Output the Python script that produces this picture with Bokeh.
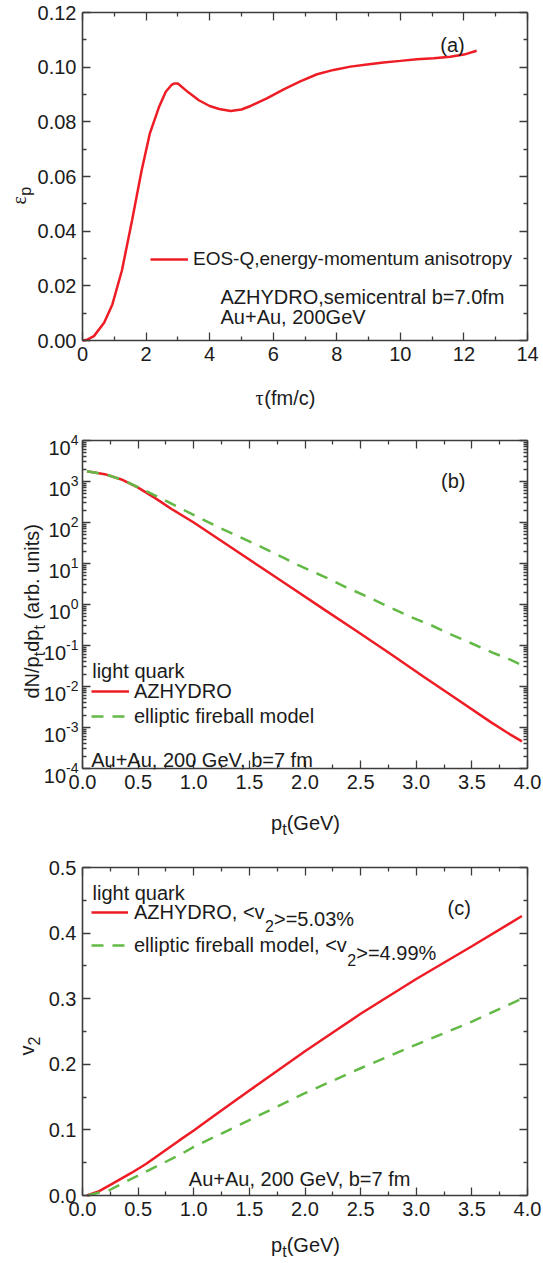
import math

from bokeh.core.properties import value
from bokeh.embed import file_html
from bokeh.layouts import column
from bokeh.models import (CustomJSTickFormatter, FixedTicker, Label, Legend,
                          LegendItem, LinearAxis, LogAxis, PrintfTickFormatter,
                          Range1d)
from bokeh.plotting import figure
from bokeh.resources import INLINE

# ---------------------------------------------------------------- data
# (a) energy-momentum anisotropy vs proper time
tau = [0.0, 0.15, 0.36, 0.68, 0.94, 1.24, 1.56, 1.86, 2.12, 2.40, 2.62, 2.80,
       2.88, 3.0, 3.34, 3.66, 4.0, 4.3, 4.66, 5.0, 5.29, 5.8, 6.33, 6.85, 7.38,
       7.9, 8.43, 8.95, 9.47, 10.0, 10.52, 11.05, 11.57, 12.0, 12.4]
eps_p = [0.0, 0.0003, 0.0016, 0.0065, 0.0132, 0.0256, 0.0440, 0.0622, 0.0758,
         0.0852, 0.0910, 0.0935, 0.0940, 0.0940, 0.0907, 0.0879, 0.0858, 0.0847,
         0.0840, 0.0845, 0.0858, 0.0886, 0.0919, 0.0948, 0.0974, 0.0990, 0.1002,
         0.1010, 0.1017, 0.1023, 0.1029, 0.1033, 0.1038, 0.1046, 0.1060]

# (b) light-quark spectra
pt_spec_hydro = [0.04, 0.2, 0.35, 0.5, 0.65, 0.8, 1.0, 1.32, 1.61, 1.88, 2.17,
                 2.47, 2.77, 3.07, 3.37, 3.67, 3.85, 3.95]
dn_hydro = [1780, 1510, 1120, 708, 398, 214, 100, 26.3, 7.9, 2.57, 0.76, 0.22,
            0.062, 0.017, 0.0048, 0.00135, 0.00066, 0.00046]
pt_spec_fire = [0.04, 0.2, 0.35, 0.5, 0.66, 0.85, 1.03, 1.225, 1.42, 1.61, 1.8,
                1.94, 2.17, 2.37, 2.56, 2.74, 2.93, 3.13, 3.32, 3.5, 3.7, 3.85,
                3.95]
dn_fire = [1780, 1510, 1120, 724, 447, 245, 138, 75.9, 43.7, 25.1, 14.1, 9.1,
           4.8, 2.63, 1.55, 0.91, 0.525, 0.316, 0.182, 0.112, 0.0646, 0.0447,
           0.0331]

# (c) light-quark elliptic flow
pt_v2_hydro = [0.04, 0.15, 0.27, 0.435, 0.57, 0.87, 1.0, 1.17, 1.5, 2.0, 2.5,
               3.0, 3.5, 3.95]
v2_hydro = [0.0, 0.0066, 0.018, 0.034, 0.048, 0.084, 0.099, 0.120, 0.160,
            0.220, 0.277, 0.330, 0.380, 0.426]
pt_v2_fire = [0.05, 0.24, 0.435, 0.66, 0.87, 1.0, 1.5, 2.0, 2.5, 3.0, 3.5,
              3.95]
v2_fire = [0.0005, 0.008, 0.025, 0.044, 0.0615, 0.074, 0.115, 0.156, 0.194,
           0.230, 0.265, 0.300]

# axis ticks
tau_ticks = [0, 2, 4, 6, 8, 10, 12, 14]
tau_minor = [1, 3, 5, 7, 9, 11, 13]
eps_ticks = [0.0, 0.02, 0.04, 0.06, 0.08, 0.10, 0.12]
eps_minor = [0.01, 0.03, 0.05, 0.07, 0.09, 0.11]
pt_ticks = [0.0, 0.5, 1.0, 1.5, 2.0, 2.5, 3.0, 3.5, 4.0]
pt_minor = [0.25, 0.75, 1.25, 1.75, 2.25, 2.75, 3.25, 3.75]
dn_exponents = [-4, -3, -2, -1, 0, 1, 2, 3, 4]
dn_ticks = [10.0 ** k for k in dn_exponents]
dn_minor = [m * 10.0 ** k for k in dn_exponents[:-1] for m in range(2, 10)]
v2_ticks = [0.0, 0.1, 0.2, 0.3, 0.4, 0.5]
v2_minor = [0.05, 0.15, 0.25, 0.35, 0.45]

# ---------------------------------------------------------------- style
FONT = "Liberation Sans"
GREEK = "Liberation Serif"
INK = "#1b1b1b"
AXIS = "#3c3c3c"
RED = "#ee1c25"
GREEN = "#63b946"
DASH = "12 9"
SIZE = 20
SUB_SIZE = 16
SUB_SHIFT = 7

PAGE_W = 543
FL, FW, FH = 82, 445, 328          # plot box: left edge, width, height (px)
FR_PAD = PAGE_W - FL - FW

# Arial / Liberation Sans advance widths (1/1000 em)
ADV = {' ': 278, '%': 889, '(': 333, ')': 333, '+': 584, ',': 278, '-': 333,
       '.': 278, '/': 278, '<': 584, '=': 584, '>': 584,
       'A': 667, 'B': 667, 'C': 722, 'D': 722, 'E': 667, 'F': 611, 'G': 778,
       'H': 722, 'I': 278, 'J': 500, 'K': 667, 'L': 556, 'M': 833, 'N': 722,
       'O': 778, 'P': 667, 'Q': 778, 'R': 722, 'S': 667, 'T': 611, 'U': 722,
       'V': 667, 'W': 944, 'X': 667, 'Y': 667, 'Z': 611,
       'a': 556, 'b': 556, 'c': 500, 'd': 556, 'e': 556, 'f': 278, 'g': 556,
       'h': 556, 'i': 222, 'j': 222, 'k': 500, 'l': 222, 'm': 833, 'n': 556,
       'o': 556, 'p': 556, 'q': 556, 'r': 333, 's': 500, 't': 278, 'u': 556,
       'v': 500, 'w': 722, 'x': 500, 'y': 500, 'z': 500,
       'τ': 440, 'ε': 440}


def text_width(s, size):
    return sum(ADV.get(ch, 556) for ch in s) * size / 1000.0


BLANK = CustomJSTickFormatter(code="return ''")


class Panel:
    """One figure whose drawing area covers the whole canvas; the axes are
    pinned at the edges of the plot box, so every text can sit anywhere."""

    def __init__(self, height, top_border, page_top, xr, yr, log=False):
        self.xr, self.yr, self.log = xr, yr, log
        self.height = height
        self.page_top = page_top
        self.bottom_border = height - top_border - FH
        self.frame_top = page_top + top_border
        x0, x1 = xr
        sx = (x1 - x0) / FW
        view_x = (x0 - FL * sx, x1 + FR_PAD * sx)
        if log:
            a, b = math.log10(yr[0]), math.log10(yr[1])
            sy = (b - a) / FH
            view_y = (10 ** (a - self.bottom_border * sy),
                      10 ** (b + top_border * sy))
        else:
            sy = (yr[1] - yr[0]) / FH
            view_y = (yr[0] - self.bottom_border * sy, yr[1] + top_border * sy)
        self.fig = figure(width=PAGE_W, height=height,
                          x_range=Range1d(*view_x), y_range=Range1d(*view_y),
                          y_axis_type="log" if log else "linear",
                          output_backend="svg", toolbar_location=None,
                          min_border=0, min_border_left=0, min_border_right=0,
                          min_border_top=0, min_border_bottom=0)
        p = self.fig
        p.outline_line_color = None
        p.grid.visible = False
        p.background_fill_color = "white"
        p.border_fill_color = "white"

    def dx(self, px):
        x0, x1 = self.xr
        return x0 + (px - FL) / FW * (x1 - x0)

    def dy(self, py):
        f = (self.frame_top + FH - py) / FH
        y0, y1 = self.yr
        if self.log:
            a, b = math.log10(y0), math.log10(y1)
            return 10 ** (a + f * (b - a))
        return y0 + f * (y1 - y0)

    def py_of(self, y):
        y0, y1 = self.yr
        if self.log:
            a, b = math.log10(y0), math.log10(y1)
            f = (math.log10(y) - a) / (b - a)
        else:
            f = (y - y0) / (y1 - y0)
        return self.frame_top + FH - f * FH

    def label(self, px, py, text, size=SIZE, font=FONT, align="left",
              baseline="alphabetic", angle=0):
        self.fig.add_layout(Label(x=self.dx(px), y=self.dy(py), text=text,
                                  text_font=font, text_font_size=f"{size}px",
                                  text_color=INK, text_align=align,
                                  text_baseline=baseline, angle=angle,
                                  angle_units="deg"))

    def rich(self, px, py, runs, size=SIZE, angle=0):
        """runs: (text, kind[, font]) with kind 'n' or 'sub'."""
        pos = 0.0
        for run in runs:
            txt, kind = run[0], run[1]
            font = run[2] if len(run) > 2 else FONT
            if kind == "sub":
                s, shift = SUB_SIZE, SUB_SHIFT
            else:
                s, shift = size, 0
            lead = len(txt) - len(txt.lstrip(" "))
            pos += text_width(" " * lead, s)
            txt = txt.lstrip(" ")
            if angle == 0:
                X, Y = px + pos, py + shift
            else:
                X, Y = px + shift, py - pos
            self.label(X, Y, txt, size=s, font=font, angle=angle)
            pos += text_width(txt, s)
        return pos

    def axes(self, xt, xm, yt, ym, xfmt=None, yfmt=None, show_y=True):
        p = self.fig
        x0, x1 = self.xr
        y0, y1 = self.yr
        bottom, left = p.xaxis[0], p.yaxis[0]
        bottom.ticker = FixedTicker(ticks=xt, minor_ticks=xm)
        left.ticker = FixedTicker(ticks=yt, minor_ticks=ym)
        bottom.fixed_location, bottom.bounds = y0, (x0, x1)
        left.fixed_location, left.bounds = x0, (y0, y1)
        if xfmt:
            bottom.formatter = PrintfTickFormatter(format=xfmt)
        if yfmt:
            left.formatter = PrintfTickFormatter(format=yfmt)
        yaxis_cls = LogAxis if self.log else LinearAxis
        top = LinearAxis(ticker=FixedTicker(ticks=xt, minor_ticks=xm),
                         formatter=BLANK, fixed_location=y1, bounds=(x0, x1))
        right = yaxis_cls(ticker=FixedTicker(ticks=yt, minor_ticks=ym),
                          formatter=BLANK, fixed_location=x1, bounds=(y0, y1))
        p.add_layout(top, "above")
        p.add_layout(right, "right")
        mirrored = [top, right]
        if not show_y:
            left.formatter = BLANK
            mirrored.append(left)
        for ax in (bottom, left, top, right):
            ax.axis_line_color = AXIS
            ax.axis_line_width = 1.6
            ax.major_tick_line_color = AXIS
            ax.minor_tick_line_color = AXIS
            ax.major_tick_line_width = 1.3
            ax.minor_tick_line_width = 1.3
            ax.major_tick_in = 8
            ax.major_tick_out = 0
            ax.minor_tick_in = 4
            ax.minor_tick_out = 0
            ax.major_label_text_font = FONT
            ax.major_label_text_font_size = f"{SIZE}px"
            ax.major_label_text_color = INK
            ax.major_label_standoff = 6
        for ax in mirrored:
            ax.major_label_text_font_size = "0px"
            ax.major_label_standoff = 0

    def legend(self, items, px, py_bottom, glyph_width, standoff, spacing,
               size=SIZE):
        # legend location is measured from the canvas' bottom-left corner
        loc = (px, self.page_top + self.height - py_bottom)
        leg = Legend(items=items, location=loc, padding=0, margin=0,
                     spacing=spacing, glyph_width=glyph_width,
                     glyph_height=24, label_height=24,
                     label_standoff=standoff, border_line_color=None,
                     background_fill_alpha=0, label_text_font=FONT,
                     label_text_font_size=f"{size}px",
                     label_text_color=INK)
        self.fig.add_layout(leg)
        return leg


# ---------------------------------------------------------------- (a)
pa = Panel(412, 12, 0, (0, 14), (0, 0.12))
pa.axes(tau_ticks, tau_minor, eps_ticks, eps_minor, yfmt="%.2f")
ra = pa.fig.line(tau, eps_p, line_color=RED, line_width=2.5)
pa.legend([LegendItem(label=value("EOS-Q,energy-momentum anisotropy"),
                      renderers=[ra])],
          150, 271, 38, 5, 0, size=19)
pa.label(220, 296, "AZHYDRO,semicentral b=7.0fm")
pa.label(220, 316, "Au+Au, 200GeV")
pa.label(452, 44, "(a)", align="center")
pa.rich(255, 397, [("τ", "n", GREEK), ("(fm/c)", "n")])
pa.rich(18, 204, [("ε", "n", GREEK), ("p", "sub")], angle=90)

# ---------------------------------------------------------------- (b)
pb = Panel(428, 28, 412, (0, 4), (1e-4, 1e4), log=True)
pb.axes(pt_ticks, pt_minor, dn_ticks, dn_minor, xfmt="%.1f", show_y=False)
rb1 = pb.fig.line(pt_spec_hydro, dn_hydro, line_color=RED, line_width=2.5)
rb2 = pb.fig.line(pt_spec_fire, dn_fire, line_color=GREEN, line_width=2.5,
                  line_dash=DASH)
pb.legend([LegendItem(label=value("AZHYDRO"), renderers=[rb1]),
           LegendItem(label=value("elliptic fireball model"), renderers=[rb2])],
          91, 728, 38, 5, 1)
pb.label(91.7, 670, "light quark")
pb.label(90.7, 759, "Au+Au, 200 GeV, b=7 fm")
pb.label(452.8, 480, "(b)", align="center")
pb.rich(270.6, 822, [("p", "n"), ("t", "sub"), ("(GeV)", "n")])
pb.rich(31.5, 698, [("dN/p", "n"), ("t", "sub"), ("dp", "n"), ("t", "sub"),
                    (" (arb. units)", "n")], angle=90)
for k, tick in zip(dn_exponents, dn_ticks):
    ty = pb.py_of(tick)
    exp = str(k)
    xr = 78 - text_width(exp, 14)
    pb.label(xr, ty + 7.5, "10", align="right")
    pb.label(xr, ty - 1, exp, size=14)

# ---------------------------------------------------------------- (c)
pc = Panel(423, 27, 840, (0, 4), (0, 0.5))
pc.axes(pt_ticks, pt_minor, v2_ticks, v2_minor, xfmt="%.1f", yfmt="%.1f")
rc1 = pc.fig.line(pt_v2_hydro, v2_hydro, line_color=RED, line_width=2.5)
rc2 = pc.fig.line(pt_v2_fire, v2_fire, line_color=GREEN, line_width=2.5,
                  line_dash=DASH)
c_rows = [("AZHYDRO, <v", ">=5.03%", 911.7),
          ("elliptic fireball model, <v", ">=4.99%", 945.0)]
leg_x, glyph_w, standoff = 91, 37, 6
pc.legend([LegendItem(label=value(c_rows[0][0]), renderers=[rc1]),
           LegendItem(label=value(c_rows[1][0]), renderers=[rc2])],
          leg_x, 957, glyph_w, standoff, 9)
for head, tail, yc in c_rows:
    x0 = leg_x + glyph_w + standoff + text_width(head, SIZE)
    pc.rich(x0, yc + 7, [("2", "sub"), (tail, "n")])
pc.label(92, 892, "light quark")
pc.label(188.3, 1178.3, "Au+Au, 200 GeV, b=7 fm")
pc.label(458.7, 907, "(c)", align="center")
pc.rich(270.6, 1244, [("p", "n"), ("t", "sub"), ("(GeV)", "n")])
pc.rich(26.5, 1055, [("v", "n"), ("2", "sub")], angle=90)

layout = column(pa.fig, pb.fig, pc.fig, spacing=0)
open("out.html", "w").write(file_html(layout, INLINE))
